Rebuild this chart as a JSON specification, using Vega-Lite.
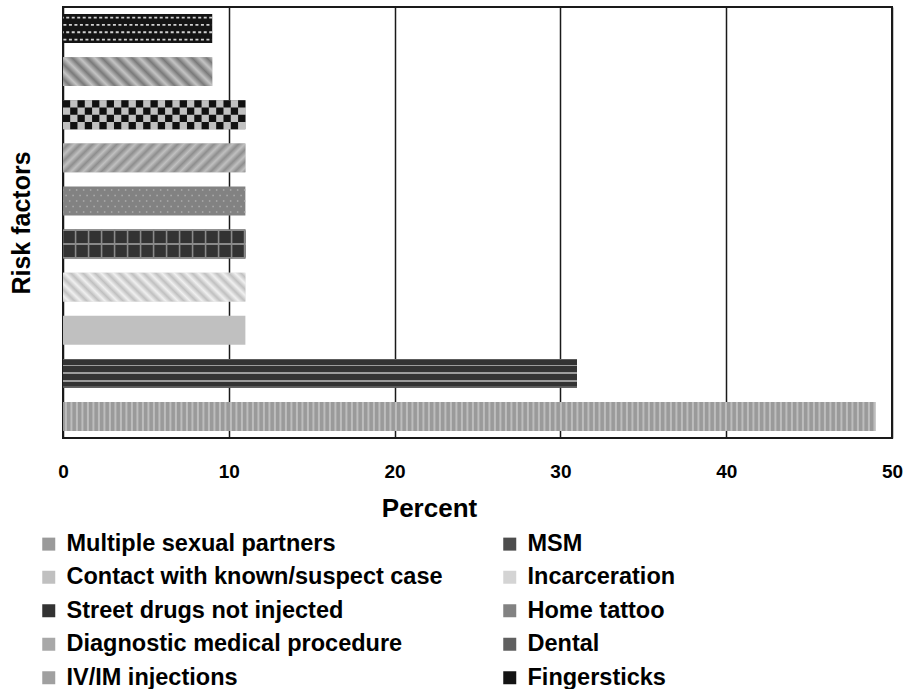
{
 "$schema": "https://vega.github.io/schema/vega-lite/v6.json",
 "width": 829, "height": 431,
 "autosize": {"type": "none"},
 "padding": {"left": 63, "top": 7, "right": 13, "bottom": 251},
 "background": "white",
 "config": {
   "font": "Liberation Sans",
   "view": {"stroke": "#1a1a1a", "strokeWidth": 2}
 },
 "data": {"values": [
  {"factor": "Multiple sexual partners", "percent": 49},
  {"factor": "MSM", "percent": 31},
  {"factor": "Contact with known/suspect case", "percent": 11},
  {"factor": "Incarceration", "percent": 11},
  {"factor": "Street drugs not injected", "percent": 11},
  {"factor": "Home tattoo", "percent": 11},
  {"factor": "Diagnostic medical procedure", "percent": 11},
  {"factor": "Dental", "percent": 11},
  {"factor": "IV/IM injections", "percent": 9},
  {"factor": "Fingersticks", "percent": 9}
 ]},
 "encoding": {
  "y": {"field": "factor", "type": "nominal",
    "sort": ["Fingersticks", "IV/IM injections", "Dental", "Diagnostic medical procedure", "Home tattoo", "Street drugs not injected", "Incarceration", "Contact with known/suspect case", "MSM", "Multiple sexual partners"],
    "scale": {"paddingInner": 0.33, "paddingOuter": 0.165},
    "axis": {"title": "Risk factors", "labels": false, "ticks": false, "domain": false, "grid": false, "titleFontSize": 25, "titleFontWeight": "bold", "titleColor": "black", "titlePadding": 34, "titleBaseline": "alphabetic"}},
  "x": {"field": "percent", "type": "quantitative", "scale": {"domain": [0, 50], "nice": false},
    "axis": {"title": "Percent", "values": [0, 10, 20, 30, 40, 50], "grid": true, "gridColor": "#1a1a1a", "gridWidth": 1.5, "domain": false, "ticks": false, "tickSize": 0, "labelFontSize": 19, "labelFontWeight": "bold", "labelColor": "black", "labelBaseline": "alphabetic", "labelPadding": 39, "labelFlush": false, "titleFontSize": 26, "titleFontWeight": "bold", "titleColor": "black", "titlePadding": 14, "titleX": 366, "titleAlign": "center"}}
 },
 "layer": [
  {"mark": {"type": "bar"},
   "encoding": {"color": {"field": "factor", "type": "nominal",
     "scale": {"domain": ["Multiple sexual partners", "Contact with known/suspect case", "Street drugs not injected", "Diagnostic medical procedure", "IV/IM injections", "MSM", "Incarceration", "Home tattoo", "Dental", "Fingersticks"],
               "range": ["#9a9a9a", "#c0c0c0", "#333333", "#a8a8a8", "#a0a0a0", "#4d4d4d", "#d4d4d4", "#828282", "#606060", "#141414"]},
     "legend": {"title": null, "orient": "none", "legendX": -26, "legendY": 525, "columns": 2, "columnPadding": 55, "rowPadding": 8.5, "padding": 0, "symbolType": "square", "symbolSize": 169, "symbolStrokeWidth": 0, "labelFontSize": 23.5, "labelFontWeight": "bold", "labelColor": "black", "labelOffset": 6, "labelLimit": 600}}}},
  {"transform": [{"filter": "datum.factor === 'Multiple sexual partners'"}],
   "mark": {"type": "rule", "strokeWidth": 28.9, "strokeDash": [2, 3.5], "color": "#bdbdbd"},
   "encoding": {"x2": {"datum": 0}}},
  {"transform": [{"filter": "datum.factor === 'MSM'"}],
   "mark": {"type": "bar", "fill": {"gradient": "linear", "x1": 0, "y1": 0, "x2": 0, "y2": 1, "stops": [
     {"offset": 0, "color": "#5c5c5c"}, {"offset": 0.05, "color": "#5c5c5c"}, {"offset": 0.05, "color": "#333333"},
     {"offset": 0.195, "color": "#333333"}, {"offset": 0.195, "color": "#9c9c9c"}, {"offset": 0.26, "color": "#9c9c9c"}, {"offset": 0.26, "color": "#333333"},
     {"offset": 0.448, "color": "#333333"}, {"offset": 0.448, "color": "#9c9c9c"}, {"offset": 0.515, "color": "#9c9c9c"}, {"offset": 0.515, "color": "#333333"},
     {"offset": 0.724, "color": "#333333"}, {"offset": 0.724, "color": "#9c9c9c"}, {"offset": 0.79, "color": "#9c9c9c"}, {"offset": 0.79, "color": "#333333"},
     {"offset": 0.95, "color": "#333333"}, {"offset": 0.95, "color": "#5c5c5c"}, {"offset": 1, "color": "#5c5c5c"}]}}},
  {"transform": [{"filter": "datum.factor === 'Incarceration'"}],
   "mark": {"type": "bar", "fill": {"gradient": "linear", "x1": 0, "y1": 1, "x2": 1.13, "y2": 0.82, "stops": [
     {"offset": 0, "color": "#c0c0c0"}, {"offset": 0.0288, "color": "#f0f0f0"}, {"offset": 0.0575, "color": "#c0c0c0"}, {"offset": 0.0863, "color": "#f0f0f0"},
     {"offset": 0.115, "color": "#c0c0c0"}, {"offset": 0.1438, "color": "#f0f0f0"}, {"offset": 0.1725, "color": "#c0c0c0"}, {"offset": 0.2013, "color": "#f0f0f0"},
     {"offset": 0.23, "color": "#c0c0c0"}, {"offset": 0.2588, "color": "#f0f0f0"}, {"offset": 0.2875, "color": "#c0c0c0"}, {"offset": 0.3163, "color": "#f0f0f0"},
     {"offset": 0.345, "color": "#c0c0c0"}, {"offset": 0.3738, "color": "#f0f0f0"}, {"offset": 0.4025, "color": "#c0c0c0"}, {"offset": 0.4313, "color": "#f0f0f0"},
     {"offset": 0.46, "color": "#c0c0c0"}, {"offset": 0.4888, "color": "#f0f0f0"}, {"offset": 0.5175, "color": "#c0c0c0"}, {"offset": 0.5463, "color": "#f0f0f0"},
     {"offset": 0.575, "color": "#c0c0c0"}, {"offset": 0.6038, "color": "#f0f0f0"}, {"offset": 0.6325, "color": "#c0c0c0"}, {"offset": 0.6613, "color": "#f0f0f0"},
     {"offset": 0.69, "color": "#c0c0c0"}, {"offset": 0.7188, "color": "#f0f0f0"}, {"offset": 0.7475, "color": "#c0c0c0"}, {"offset": 0.7763, "color": "#f0f0f0"},
     {"offset": 0.805, "color": "#c0c0c0"}, {"offset": 0.8338, "color": "#f0f0f0"}, {"offset": 0.8625, "color": "#c0c0c0"}, {"offset": 0.8913, "color": "#f0f0f0"},
     {"offset": 0.92, "color": "#c0c0c0"}, {"offset": 0.9488, "color": "#f0f0f0"}, {"offset": 0.9775, "color": "#c0c0c0"}, {"offset": 1, "color": "#f0f0f0"}]}}},
  {"transform": [{"filter": "datum.factor === 'Street drugs not injected'"}],
   "mark": {"type": "bar", "fill": {"gradient": "linear", "x1": 0, "y1": 0, "x2": 0, "y2": 1, "stops": [
     {"offset": 0, "color": "#8a8a8a"}, {"offset": 0.05, "color": "#8a8a8a"}, {"offset": 0.05, "color": "#333333"},
     {"offset": 0.47, "color": "#333333"}, {"offset": 0.47, "color": "#8a8a8a"}, {"offset": 0.53, "color": "#8a8a8a"}, {"offset": 0.53, "color": "#333333"},
     {"offset": 0.95, "color": "#333333"}, {"offset": 0.95, "color": "#8a8a8a"}, {"offset": 1, "color": "#8a8a8a"}]}}},
  {"transform": [{"filter": "datum.factor === 'Street drugs not injected'"}],
   "mark": {"type": "rule", "strokeWidth": 28.9, "strokeDash": [1.6, 11.4], "color": "#8a8a8a"},
   "encoding": {"x2": {"datum": 0}}},
  {"transform": [{"filter": "datum.factor === 'Home tattoo'"}],
   "mark": {"type": "rule", "strokeWidth": 1.5, "strokeDash": [1.5, 5.5], "yOffset": -11, "color": "#adadad"},
   "encoding": {"x2": {"datum": 0}}},
  {"transform": [{"filter": "datum.factor === 'Home tattoo'"}],
   "mark": {"type": "rule", "strokeWidth": 1.5, "strokeDash": [1.5, 5.5], "strokeDashOffset": 3.5, "yOffset": -5.5, "color": "#adadad"},
   "encoding": {"x2": {"datum": 0}}},
  {"transform": [{"filter": "datum.factor === 'Home tattoo'"}],
   "mark": {"type": "rule", "strokeWidth": 1.5, "strokeDash": [1.5, 5.5], "color": "#adadad"},
   "encoding": {"x2": {"datum": 0}}},
  {"transform": [{"filter": "datum.factor === 'Home tattoo'"}],
   "mark": {"type": "rule", "strokeWidth": 1.5, "strokeDash": [1.5, 5.5], "strokeDashOffset": 3.5, "yOffset": 5.5, "color": "#adadad"},
   "encoding": {"x2": {"datum": 0}}},
  {"transform": [{"filter": "datum.factor === 'Home tattoo'"}],
   "mark": {"type": "rule", "strokeWidth": 1.5, "strokeDash": [1.5, 5.5], "yOffset": 11, "color": "#adadad"},
   "encoding": {"x2": {"datum": 0}}},
  {"transform": [{"filter": "datum.factor === 'Diagnostic medical procedure'"}],
   "mark": {"type": "bar", "fill": {"gradient": "linear", "x1": 0, "y1": 0, "x2": 1.13, "y2": 0.18, "stops": [
     {"offset": 0, "color": "#c0c0c0"}, {"offset": 0.0288, "color": "#8e8e8e"}, {"offset": 0.0575, "color": "#c0c0c0"}, {"offset": 0.0863, "color": "#8e8e8e"},
     {"offset": 0.115, "color": "#c0c0c0"}, {"offset": 0.1438, "color": "#8e8e8e"}, {"offset": 0.1725, "color": "#c0c0c0"}, {"offset": 0.2013, "color": "#8e8e8e"},
     {"offset": 0.23, "color": "#c0c0c0"}, {"offset": 0.2588, "color": "#8e8e8e"}, {"offset": 0.2875, "color": "#c0c0c0"}, {"offset": 0.3163, "color": "#8e8e8e"},
     {"offset": 0.345, "color": "#c0c0c0"}, {"offset": 0.3738, "color": "#8e8e8e"}, {"offset": 0.4025, "color": "#c0c0c0"}, {"offset": 0.4313, "color": "#8e8e8e"},
     {"offset": 0.46, "color": "#c0c0c0"}, {"offset": 0.4888, "color": "#8e8e8e"}, {"offset": 0.5175, "color": "#c0c0c0"}, {"offset": 0.5463, "color": "#8e8e8e"},
     {"offset": 0.575, "color": "#c0c0c0"}, {"offset": 0.6038, "color": "#8e8e8e"}, {"offset": 0.6325, "color": "#c0c0c0"}, {"offset": 0.6613, "color": "#8e8e8e"},
     {"offset": 0.69, "color": "#c0c0c0"}, {"offset": 0.7188, "color": "#8e8e8e"}, {"offset": 0.7475, "color": "#c0c0c0"}, {"offset": 0.7763, "color": "#8e8e8e"},
     {"offset": 0.805, "color": "#c0c0c0"}, {"offset": 0.8338, "color": "#8e8e8e"}, {"offset": 0.8625, "color": "#c0c0c0"}, {"offset": 0.8913, "color": "#8e8e8e"},
     {"offset": 0.92, "color": "#c0c0c0"}, {"offset": 0.9488, "color": "#8e8e8e"}, {"offset": 0.9775, "color": "#c0c0c0"}, {"offset": 1, "color": "#8e8e8e"}]}}},
  {"transform": [{"filter": "datum.factor === 'Dental'"}],
   "mark": {"type": "bar", "color": "#c0c0c0"}},
  {"transform": [{"filter": "datum.factor === 'Dental'"}],
   "mark": {"type": "rule", "strokeWidth": 7.25, "strokeDash": [7.3, 7.3], "strokeDashOffset": 0, "yOffset": -10.875, "color": "#111111"},
   "encoding": {"x2": {"datum": 0}}},
  {"transform": [{"filter": "datum.factor === 'Dental'"}],
   "mark": {"type": "rule", "strokeWidth": 7.25, "strokeDash": [7.3, 7.3], "strokeDashOffset": 7.3, "yOffset": -3.625, "color": "#111111"},
   "encoding": {"x2": {"datum": 0}}},
  {"transform": [{"filter": "datum.factor === 'Dental'"}],
   "mark": {"type": "rule", "strokeWidth": 7.25, "strokeDash": [7.3, 7.3], "strokeDashOffset": 0, "yOffset": 3.625, "color": "#111111"},
   "encoding": {"x2": {"datum": 0}}},
  {"transform": [{"filter": "datum.factor === 'Dental'"}],
   "mark": {"type": "rule", "strokeWidth": 7.25, "strokeDash": [7.3, 7.3], "strokeDashOffset": 7.3, "yOffset": 10.875, "color": "#111111"},
   "encoding": {"x2": {"datum": 0}}},
  {"transform": [{"filter": "datum.factor === 'IV/IM injections'"}],
   "mark": {"type": "bar", "fill": {"gradient": "linear", "x1": 0, "y1": 1, "x2": 1.151, "y2": 0.776, "stops": [
     {"offset": 0, "color": "#c4c4c4"}, {"offset": 0.042, "color": "#7a7a7a"}, {"offset": 0.084, "color": "#c4c4c4"}, {"offset": 0.126, "color": "#7a7a7a"},
     {"offset": 0.168, "color": "#c4c4c4"}, {"offset": 0.21, "color": "#7a7a7a"}, {"offset": 0.252, "color": "#c4c4c4"}, {"offset": 0.294, "color": "#7a7a7a"},
     {"offset": 0.336, "color": "#c4c4c4"}, {"offset": 0.378, "color": "#7a7a7a"}, {"offset": 0.42, "color": "#c4c4c4"}, {"offset": 0.462, "color": "#7a7a7a"},
     {"offset": 0.504, "color": "#c4c4c4"}, {"offset": 0.546, "color": "#7a7a7a"}, {"offset": 0.588, "color": "#c4c4c4"}, {"offset": 0.63, "color": "#7a7a7a"},
     {"offset": 0.672, "color": "#c4c4c4"}, {"offset": 0.714, "color": "#7a7a7a"}, {"offset": 0.756, "color": "#c4c4c4"}, {"offset": 0.798, "color": "#7a7a7a"},
     {"offset": 0.84, "color": "#c4c4c4"}, {"offset": 0.882, "color": "#7a7a7a"}, {"offset": 0.924, "color": "#c4c4c4"}, {"offset": 0.966, "color": "#7a7a7a"},
     {"offset": 1, "color": "#c4c4c4"}]}}},
  {"transform": [{"filter": "datum.factor === 'Fingersticks'"}],
   "mark": {"type": "rule", "strokeWidth": 1.8, "strokeDash": [3, 2.5], "yOffset": -11, "color": "#d0d0d0"},
   "encoding": {"x2": {"datum": 0}}},
  {"transform": [{"filter": "datum.factor === 'Fingersticks'"}],
   "mark": {"type": "rule", "strokeWidth": 1.8, "strokeDash": [3, 2.5], "strokeDashOffset": 2.7, "yOffset": -3.7, "color": "#d0d0d0"},
   "encoding": {"x2": {"datum": 0}}},
  {"transform": [{"filter": "datum.factor === 'Fingersticks'"}],
   "mark": {"type": "rule", "strokeWidth": 1.8, "strokeDash": [3, 2.5], "yOffset": 3.7, "color": "#d0d0d0"},
   "encoding": {"x2": {"datum": 0}}},
  {"transform": [{"filter": "datum.factor === 'Fingersticks'"}],
   "mark": {"type": "rule", "strokeWidth": 1.8, "strokeDash": [3, 2.5], "strokeDashOffset": 2.7, "yOffset": 11, "color": "#d0d0d0"},
   "encoding": {"x2": {"datum": 0}}}
 ]
}
